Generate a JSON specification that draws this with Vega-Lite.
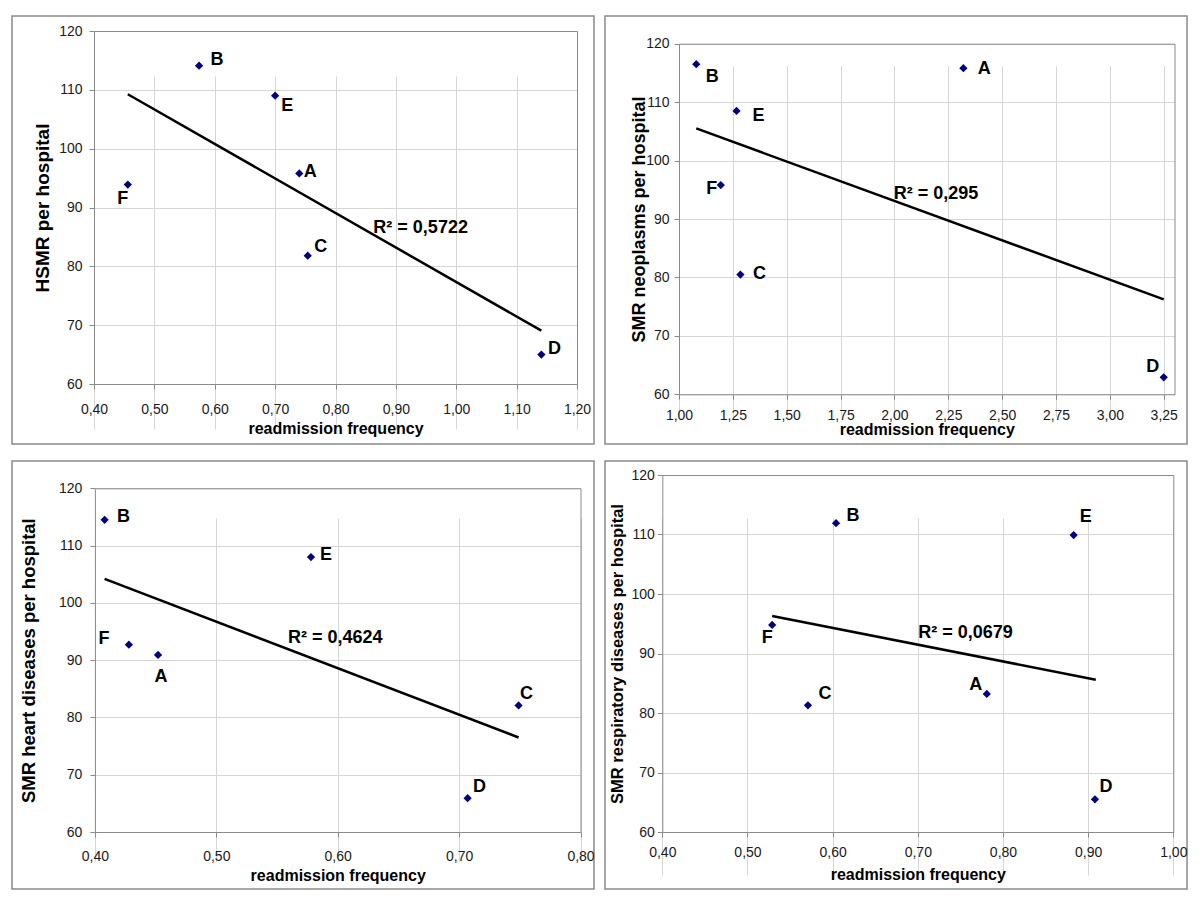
{
  "$schema": "https://vega.github.io/schema/vega-lite/v6.json",
  "background": "white",
  "padding": {"left": 11, "top": 15, "right": 0, "bottom": 0},
  "bounds": "flush",
  "columns": 2,
  "spacing": {"row": 17, "column": 11},
  "datasets": {
    "p1": [
      {"hospital": "A", "freq": 0.740, "smr": 95.8},
      {"hospital": "B", "freq": 0.574, "smr": 114.1},
      {"hospital": "C", "freq": 0.754, "smr": 81.8},
      {"hospital": "D", "freq": 1.141, "smr": 65.0},
      {"hospital": "E", "freq": 0.700, "smr": 109.0},
      {"hospital": "F", "freq": 0.456, "smr": 93.9}
    ],
    "p1t": [{"freq": 0.456, "smr": 109.25}, {"freq": 1.141, "smr": 69.06}],
    "p1r": [{"freq": 0.941, "smr": 86.6, "label": "R² = 0,5722"}],
    "p2": [
      {"hospital": "A", "freq": 2.320, "smr": 115.8},
      {"hospital": "B", "freq": 1.080, "smr": 116.5},
      {"hospital": "C", "freq": 1.285, "smr": 80.5},
      {"hospital": "D", "freq": 3.250, "smr": 62.9},
      {"hospital": "E", "freq": 1.267, "smr": 108.5},
      {"hospital": "F", "freq": 1.194, "smr": 95.8}
    ],
    "p2t": [{"freq": 1.080, "smr": 105.5}, {"freq": 3.250, "smr": 76.25}],
    "p2r": [{"freq": 2.193, "smr": 94.3, "label": "R² = 0,295"}],
    "p3": [
      {"hospital": "A", "freq": 0.452, "smr": 90.9},
      {"hospital": "B", "freq": 0.408, "smr": 114.5},
      {"hospital": "C", "freq": 0.749, "smr": 82.1},
      {"hospital": "D", "freq": 0.707, "smr": 65.9},
      {"hospital": "E", "freq": 0.578, "smr": 108.0},
      {"hospital": "F", "freq": 0.428, "smr": 92.7}
    ],
    "p3t": [{"freq": 0.408, "smr": 104.2}, {"freq": 0.749, "smr": 76.5}],
    "p3r": [{"freq": 0.598, "smr": 93.9, "label": "R² = 0,4624"}],
    "p4": [
      {"hospital": "A", "freq": 0.781, "smr": 83.2},
      {"hospital": "B", "freq": 0.604, "smr": 111.9},
      {"hospital": "C", "freq": 0.571, "smr": 81.3},
      {"hospital": "D", "freq": 0.908, "smr": 65.5},
      {"hospital": "E", "freq": 0.883, "smr": 109.9},
      {"hospital": "F", "freq": 0.529, "smr": 94.8}
    ],
    "p4t": [{"freq": 0.529, "smr": 96.3}, {"freq": 0.909, "smr": 85.6}],
    "p4r": [{"freq": 0.756, "smr": 93.5, "label": "R² = 0,0679"}]
  },
  "config": {
    "view": {"stroke": "#8a8a8a", "strokeWidth": 1.5, "fill": "white"},
    "font": "Liberation Sans",
    "axis": {
      "labelFont": "Liberation Sans", "labelFontSize": 14, "labelColor": "#1a1a1a",
      "titleFont": "Liberation Sans", "titleFontWeight": "bold", "titleColor": "#000000",
      "domainColor": "#8a8a8a", "tickColor": "#8a8a8a", "tickSize": 5,
      "gridColor": "#d6d6d6", "labelOverlap": false, "labelFlush": false, "titleBaseline": "middle"
    },
    "text": {"font": "Liberation Sans", "fontSize": 18, "fontWeight": "bold", "color": "#000000", "align": "center", "baseline": "middle"},
    "line": {"color": "#000000", "strokeWidth": 2.5},
    "point": {"shape": "diamond", "filled": true, "color": "#000080", "size": 68, "opacity": 1}
  },
  "concat": [
    {
      "width": 582, "height": 428,
      "resolve": {"axis": {"x": "independent", "y": "independent"}},
      "layer": [
        {"data": {"name": "p1"}, "mark": "point",
         "encoding": {
           "x": {"field": "freq", "type": "quantitative", "scale": {"domain": [0.4, 1.2], "range": [82, 565], "nice": false, "zero": false},
                 "axis": {"orient": "bottom", "offset": -60, "values": [0.4, 0.5, 0.6, 0.7, 0.8, 0.9, 1.0, 1.1, 1.2], "labelExpr": "replace(format(datum.value, '.2f'), '.', ',')", "labelPadding": 13, "title": "readmission frequency", "titleFontSize": 16, "titleY": 44, "grid": true}},
           "y": {"field": "smr", "type": "quantitative", "scale": {"domain": [60, 120], "range": [368, 15], "nice": false, "zero": false},
                 "axis": {"orient": "left", "offset": -82, "values": [60, 70, 80, 90, 100, 110, 120], "labelPadding": 7, "title": "HSMR per hospital", "titleFontSize": 19, "titleX": -52, "grid": true}}
         }},
        {"data": {"name": "p1t"}, "mark": "line",
         "encoding": {
           "x": {"field": "freq", "type": "quantitative", "axis": {"orient": "top", "offset": -15, "labels": false, "ticks": false, "grid": false, "title": null}},
           "y": {"field": "smr", "type": "quantitative", "axis": {"orient": "right", "offset": -17, "labels": false, "ticks": false, "grid": false, "title": null}}
         }},
        {"data": {"name": "p1"}, "transform": [{"filter": "datum.hospital === 'B'"}], "mark": {"type": "text", "dx": 18, "dy": -6},
         "encoding": {"x": {"field": "freq", "type": "quantitative", "axis": null}, "y": {"field": "smr", "type": "quantitative", "axis": null}, "text": {"field": "hospital"}}},
        {"data": {"name": "p1"}, "transform": [{"filter": "datum.hospital === 'E'"}], "mark": {"type": "text", "dx": 12, "dy": 10},
         "encoding": {"x": {"field": "freq", "type": "quantitative", "axis": null}, "y": {"field": "smr", "type": "quantitative", "axis": null}, "text": {"field": "hospital"}}},
        {"data": {"name": "p1"}, "transform": [{"filter": "datum.hospital === 'A'"}], "mark": {"type": "text", "dx": 11, "dy": -1},
         "encoding": {"x": {"field": "freq", "type": "quantitative", "axis": null}, "y": {"field": "smr", "type": "quantitative", "axis": null}, "text": {"field": "hospital"}}},
        {"data": {"name": "p1"}, "transform": [{"filter": "datum.hospital === 'F'"}], "mark": {"type": "text", "dx": -5, "dy": 14},
         "encoding": {"x": {"field": "freq", "type": "quantitative", "axis": null}, "y": {"field": "smr", "type": "quantitative", "axis": null}, "text": {"field": "hospital"}}},
        {"data": {"name": "p1"}, "transform": [{"filter": "datum.hospital === 'C'"}], "mark": {"type": "text", "dx": 13, "dy": -9},
         "encoding": {"x": {"field": "freq", "type": "quantitative", "axis": null}, "y": {"field": "smr", "type": "quantitative", "axis": null}, "text": {"field": "hospital"}}},
        {"data": {"name": "p1"}, "transform": [{"filter": "datum.hospital === 'D'"}], "mark": {"type": "text", "dx": 13, "dy": -6},
         "encoding": {"x": {"field": "freq", "type": "quantitative", "axis": null}, "y": {"field": "smr", "type": "quantitative", "axis": null}, "text": {"field": "hospital"}}},
        {"data": {"name": "p1r"}, "mark": {"type": "text"},
         "encoding": {"x": {"field": "freq", "type": "quantitative", "axis": null}, "y": {"field": "smr", "type": "quantitative", "axis": null}, "text": {"field": "label"}}}
      ]
    },
    {
      "width": 582, "height": 428,
      "resolve": {"axis": {"x": "independent", "y": "independent"}},
      "layer": [
        {"data": {"name": "p2"}, "mark": "point",
         "encoding": {
           "x": {"field": "freq", "type": "quantitative", "scale": {"domain": [1.0, 3.3], "range": [74, 569.5], "nice": false, "zero": false},
                 "axis": {"orient": "bottom", "offset": -49.7, "values": [1.0, 1.25, 1.5, 1.75, 2.0, 2.25, 2.5, 2.75, 3.0, 3.25], "labelExpr": "replace(format(datum.value, '.2f'), '.', ',')", "labelPadding": 9, "title": "readmission frequency", "titleFontSize": 16, "titleY": 35, "grid": true}},
           "y": {"field": "smr", "type": "quantitative", "scale": {"domain": [60, 120], "range": [378.3, 27.7], "nice": false, "zero": false},
                 "axis": {"orient": "left", "offset": -74, "values": [60, 70, 80, 90, 100, 110, 120], "labelPadding": 5, "title": "SMR neoplasms per hospital", "titleFontSize": 18, "titleX": -40, "grid": true}}
         }},
        {"data": {"name": "p2t"}, "mark": "line",
         "encoding": {
           "x": {"field": "freq", "type": "quantitative", "axis": {"orient": "top", "offset": -27.7, "labels": false, "ticks": false, "grid": false, "title": null}},
           "y": {"field": "smr", "type": "quantitative", "axis": {"orient": "right", "offset": -12.5, "labels": false, "ticks": false, "grid": false, "title": null}}
         }},
        {"data": {"name": "p2"}, "transform": [{"filter": "datum.hospital === 'B'"}], "mark": {"type": "text", "dx": 16, "dy": 13},
         "encoding": {"x": {"field": "freq", "type": "quantitative", "axis": null}, "y": {"field": "smr", "type": "quantitative", "axis": null}, "text": {"field": "hospital"}}},
        {"data": {"name": "p2"}, "transform": [{"filter": "datum.hospital === 'A'"}], "mark": {"type": "text", "dx": 21, "dy": 1},
         "encoding": {"x": {"field": "freq", "type": "quantitative", "axis": null}, "y": {"field": "smr", "type": "quantitative", "axis": null}, "text": {"field": "hospital"}}},
        {"data": {"name": "p2"}, "transform": [{"filter": "datum.hospital === 'E'"}], "mark": {"type": "text", "dx": 22, "dy": 5},
         "encoding": {"x": {"field": "freq", "type": "quantitative", "axis": null}, "y": {"field": "smr", "type": "quantitative", "axis": null}, "text": {"field": "hospital"}}},
        {"data": {"name": "p2"}, "transform": [{"filter": "datum.hospital === 'F'"}], "mark": {"type": "text", "dx": -9, "dy": 4},
         "encoding": {"x": {"field": "freq", "type": "quantitative", "axis": null}, "y": {"field": "smr", "type": "quantitative", "axis": null}, "text": {"field": "hospital"}}},
        {"data": {"name": "p2"}, "transform": [{"filter": "datum.hospital === 'C'"}], "mark": {"type": "text", "dx": 19, "dy": -1},
         "encoding": {"x": {"field": "freq", "type": "quantitative", "axis": null}, "y": {"field": "smr", "type": "quantitative", "axis": null}, "text": {"field": "hospital"}}},
        {"data": {"name": "p2"}, "transform": [{"filter": "datum.hospital === 'D'"}], "mark": {"type": "text", "dx": -11, "dy": -10},
         "encoding": {"x": {"field": "freq", "type": "quantitative", "axis": null}, "y": {"field": "smr", "type": "quantitative", "axis": null}, "text": {"field": "hospital"}}},
        {"data": {"name": "p2r"}, "mark": {"type": "text"},
         "encoding": {"x": {"field": "freq", "type": "quantitative", "axis": null}, "y": {"field": "smr", "type": "quantitative", "axis": null}, "text": {"field": "label"}}}
      ]
    },
    {
      "width": 582, "height": 428,
      "resolve": {"axis": {"x": "independent", "y": "independent"}},
      "layer": [
        {"data": {"name": "p3"}, "mark": "point",
         "encoding": {
           "x": {"field": "freq", "type": "quantitative", "scale": {"domain": [0.4, 0.8], "range": [82.9, 568.5], "nice": false, "zero": false},
                 "axis": {"orient": "bottom", "offset": -57, "values": [0.4, 0.5, 0.6, 0.7, 0.8], "labelExpr": "replace(format(datum.value, '.2f'), '.', ',')", "labelPadding": 12, "title": "readmission frequency", "titleFontSize": 16, "titleY": 43, "grid": true}},
           "y": {"field": "smr", "type": "quantitative", "scale": {"domain": [60, 120], "range": [371, 27.3], "nice": false, "zero": false},
                 "axis": {"orient": "left", "offset": -82.9, "values": [60, 70, 80, 90, 100, 110, 120], "labelPadding": 8, "title": "SMR heart diseases per hospital", "titleFontSize": 18.5, "titleX": -66, "grid": true}}
         }},
        {"data": {"name": "p3t"}, "mark": "line",
         "encoding": {
           "x": {"field": "freq", "type": "quantitative", "axis": {"orient": "top", "offset": -27.3, "labels": false, "ticks": false, "grid": false, "title": null}},
           "y": {"field": "smr", "type": "quantitative", "axis": {"orient": "right", "offset": -13.5, "labels": false, "ticks": false, "grid": false, "title": null}}
         }},
        {"data": {"name": "p3"}, "transform": [{"filter": "datum.hospital === 'B'"}], "mark": {"type": "text", "dx": 19, "dy": -3},
         "encoding": {"x": {"field": "freq", "type": "quantitative", "axis": null}, "y": {"field": "smr", "type": "quantitative", "axis": null}, "text": {"field": "hospital"}}},
        {"data": {"name": "p3"}, "transform": [{"filter": "datum.hospital === 'E'"}], "mark": {"type": "text", "dx": 15, "dy": -2},
         "encoding": {"x": {"field": "freq", "type": "quantitative", "axis": null}, "y": {"field": "smr", "type": "quantitative", "axis": null}, "text": {"field": "hospital"}}},
        {"data": {"name": "p3"}, "transform": [{"filter": "datum.hospital === 'F'"}], "mark": {"type": "text", "dx": -25, "dy": -6},
         "encoding": {"x": {"field": "freq", "type": "quantitative", "axis": null}, "y": {"field": "smr", "type": "quantitative", "axis": null}, "text": {"field": "hospital"}}},
        {"data": {"name": "p3"}, "transform": [{"filter": "datum.hospital === 'A'"}], "mark": {"type": "text", "dx": 3, "dy": 22},
         "encoding": {"x": {"field": "freq", "type": "quantitative", "axis": null}, "y": {"field": "smr", "type": "quantitative", "axis": null}, "text": {"field": "hospital"}}},
        {"data": {"name": "p3"}, "transform": [{"filter": "datum.hospital === 'C'"}], "mark": {"type": "text", "dx": 8, "dy": -11},
         "encoding": {"x": {"field": "freq", "type": "quantitative", "axis": null}, "y": {"field": "smr", "type": "quantitative", "axis": null}, "text": {"field": "hospital"}}},
        {"data": {"name": "p3"}, "transform": [{"filter": "datum.hospital === 'D'"}], "mark": {"type": "text", "dx": 12, "dy": -11},
         "encoding": {"x": {"field": "freq", "type": "quantitative", "axis": null}, "y": {"field": "smr", "type": "quantitative", "axis": null}, "text": {"field": "hospital"}}},
        {"data": {"name": "p3r"}, "mark": {"type": "text"},
         "encoding": {"x": {"field": "freq", "type": "quantitative", "axis": null}, "y": {"field": "smr", "type": "quantitative", "axis": null}, "text": {"field": "label"}}}
      ]
    },
    {
      "width": 582, "height": 428,
      "resolve": {"axis": {"x": "independent", "y": "independent"}},
      "layer": [
        {"data": {"name": "p4"}, "mark": "point",
         "encoding": {
           "x": {"field": "freq", "type": "quantitative", "scale": {"domain": [0.4, 1.0], "range": [57.3, 568.3], "nice": false, "zero": false},
                 "axis": {"orient": "bottom", "offset": -57, "values": [0.4, 0.5, 0.6, 0.7, 0.8, 0.9, 1.0], "labelExpr": "replace(format(datum.value, '.2f'), '.', ',')", "labelPadding": 8, "title": "readmission frequency", "titleFontSize": 16, "titleY": 42, "grid": true}},
           "y": {"field": "smr", "type": "quantitative", "scale": {"domain": [60, 120], "range": [371, 14], "nice": false, "zero": false},
                 "axis": {"orient": "left", "offset": -57.3, "values": [60, 70, 80, 90, 100, 110, 120], "labelPadding": 3, "title": "SMR respiratory diseases per hospital", "titleFontSize": 16.5, "titleX": -45, "grid": true}}
         }},
        {"data": {"name": "p4t"}, "mark": "line",
         "encoding": {
           "x": {"field": "freq", "type": "quantitative", "axis": {"orient": "top", "offset": -14, "labels": false, "ticks": false, "grid": false, "title": null}},
           "y": {"field": "smr", "type": "quantitative", "axis": {"orient": "right", "offset": -13.7, "labels": false, "ticks": false, "grid": false, "title": null}}
         }},
        {"data": {"name": "p4"}, "transform": [{"filter": "datum.hospital === 'B'"}], "mark": {"type": "text", "dx": 17, "dy": -7},
         "encoding": {"x": {"field": "freq", "type": "quantitative", "axis": null}, "y": {"field": "smr", "type": "quantitative", "axis": null}, "text": {"field": "hospital"}}},
        {"data": {"name": "p4"}, "transform": [{"filter": "datum.hospital === 'E'"}], "mark": {"type": "text", "dx": 12, "dy": -18},
         "encoding": {"x": {"field": "freq", "type": "quantitative", "axis": null}, "y": {"field": "smr", "type": "quantitative", "axis": null}, "text": {"field": "hospital"}}},
        {"data": {"name": "p4"}, "transform": [{"filter": "datum.hospital === 'F'"}], "mark": {"type": "text", "dx": -5, "dy": 13},
         "encoding": {"x": {"field": "freq", "type": "quantitative", "axis": null}, "y": {"field": "smr", "type": "quantitative", "axis": null}, "text": {"field": "hospital"}}},
        {"data": {"name": "p4"}, "transform": [{"filter": "datum.hospital === 'A'"}], "mark": {"type": "text", "dx": -11, "dy": -9},
         "encoding": {"x": {"field": "freq", "type": "quantitative", "axis": null}, "y": {"field": "smr", "type": "quantitative", "axis": null}, "text": {"field": "hospital"}}},
        {"data": {"name": "p4"}, "transform": [{"filter": "datum.hospital === 'C'"}], "mark": {"type": "text", "dx": 17, "dy": -11},
         "encoding": {"x": {"field": "freq", "type": "quantitative", "axis": null}, "y": {"field": "smr", "type": "quantitative", "axis": null}, "text": {"field": "hospital"}}},
        {"data": {"name": "p4"}, "transform": [{"filter": "datum.hospital === 'D'"}], "mark": {"type": "text", "dx": 11, "dy": -12},
         "encoding": {"x": {"field": "freq", "type": "quantitative", "axis": null}, "y": {"field": "smr", "type": "quantitative", "axis": null}, "text": {"field": "hospital"}}},
        {"data": {"name": "p4r"}, "mark": {"type": "text"},
         "encoding": {"x": {"field": "freq", "type": "quantitative", "axis": null}, "y": {"field": "smr", "type": "quantitative", "axis": null}, "text": {"field": "label"}}}
      ]
    }
  ]
}
